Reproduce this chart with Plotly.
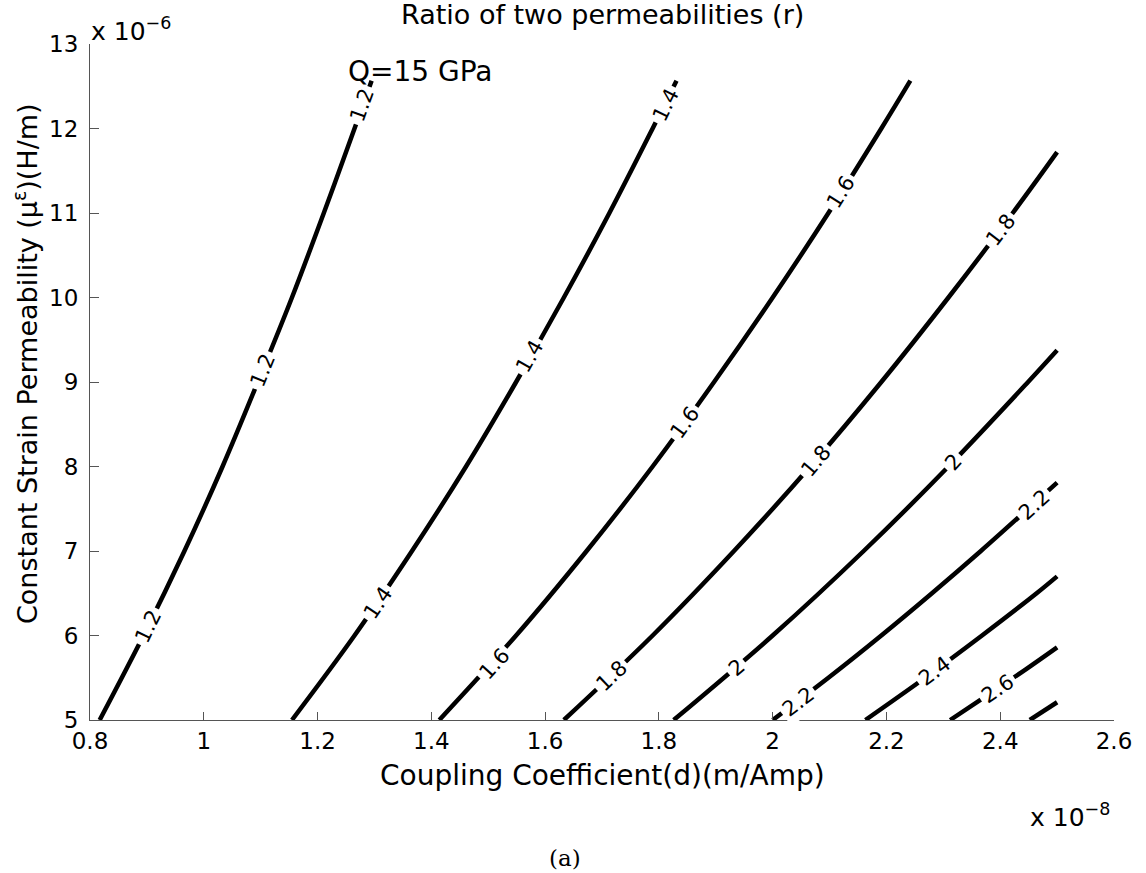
import numpy as np
import plotly.graph_objects as go

# ---- data (d in 1e-8 m/Amp, mu in 1e-6 H/m) ----
mu_r12 = [5.0, 6.0, 7.0, 8.0, 9.0, 10.0, 11.0, 12.0, 12.566]
d_r12 = [0.817, 0.894, 0.966, 1.033, 1.095, 1.155, 1.211, 1.265, 1.295]

mu_r14 = [5.0, 6.0, 7.0, 8.0, 9.0, 10.0, 11.0, 12.0, 12.566]
d_r14 = [1.155, 1.265, 1.366, 1.461, 1.549, 1.633, 1.713, 1.789, 1.831]

mu_r16 = [5.0, 6.0, 7.0, 8.0, 9.0, 10.0, 11.0, 12.0, 12.566]
d_r16 = [1.414, 1.549, 1.673, 1.789, 1.897, 2.000, 2.098, 2.191, 2.242]

mu_r18 = [5.0, 6.0, 7.0, 8.0, 9.0, 10.0, 11.0, 11.72]
d_r18 = [1.633, 1.789, 1.932, 2.066, 2.191, 2.309, 2.422, 2.500]

mu_r20 = [5.0, 6.0, 7.0, 8.0, 9.0, 9.375]
d_r20 = [1.826, 2.000, 2.160, 2.309, 2.449, 2.500]

mu_r22 = [5.0, 5.5, 6.0, 6.5, 7.0, 7.5, 7.81]
d_r22 = [2.000, 2.098, 2.191, 2.280, 2.366, 2.449, 2.500]

mu_r24 = [5.0, 5.5, 6.0, 6.5, 6.70]
d_r24 = [2.163, 2.268, 2.368, 2.464, 2.500]

mu_r26 = [5.0, 5.3, 5.6, 5.86]
d_r26 = [2.312, 2.379, 2.445, 2.500]

mu_r28 = [5.0, 5.21]
d_r28 = [2.452, 2.500]

level_names = ["1.2", "1.4", "1.6", "1.8", "2", "2.2", "2.4", "2.6", "2.8"]
level_mu = [mu_r12, mu_r14, mu_r16, mu_r18, mu_r20, mu_r22, mu_r24, mu_r26, mu_r28]
level_d = [d_r12, d_r14, d_r16, d_r18, d_r20, d_r22, d_r24, d_r26, d_r28]

# inline contour labels: level text, d position, mu position
label_text = ["1.2", "1.2", "1.2", "1.4", "1.4", "1.4", "1.6", "1.6", "1.6",
              "1.8", "1.8", "1.8", "2", "2", "2.2", "2.2", "2.4", "2.6"]
label_d = [0.902, 1.104, 1.278, 1.306, 1.572, 1.812, 1.511, 1.845, 2.120,
           1.717, 2.076, 2.401, 1.936, 2.318, 2.045, 2.460, 2.285, 2.395]
label_mu = [6.10, 9.14, 12.28, 6.39, 9.30, 12.28, 5.66, 8.52, 11.25,
            5.52, 8.07, 10.80, 5.62, 8.05, 5.21, 7.54, 5.58, 5.37]

x_ticks = [0.8, 1.0, 1.2, 1.4, 1.6, 1.8, 2.0, 2.2, 2.4, 2.6]
x_tick_text = ["0.8", "1", "1.2", "1.4", "1.6", "1.8", "2", "2.2", "2.4", "2.6"]
y_ticks = [5, 6, 7, 8, 9, 10, 11, 12, 13]
y_tick_text = ["5", "6", "7", "8", "9", "10", "11", "12", "13"]

X_RANGE = [0.8, 2.6]
Y_RANGE = [5, 13]
W, H = 1146, 873
ML, MR, MT, MB = 90, 32, 44, 153
PW, PH = W - ML - MR, H - MT - MB

FONT = "DejaVu Sans"
AX = "#555555"

fig = go.Figure()
for name, mu, d in zip(level_names, level_mu, level_d):
    fig.add_trace(go.Scatter(x=d, y=mu, mode="lines", name=name,
                             line=dict(color="black", width=4.5, shape="spline"),
                             hoverinfo="skip", showlegend=False))

# label angles from local slope of the corresponding line in pixel space
px_x = PW / (X_RANGE[1] - X_RANGE[0])
px_y = PH / (Y_RANGE[1] - Y_RANGE[0])
annotations = []
for t, ld, lm in zip(label_text, label_d, label_mu):
    i = level_names.index(t)
    mu = np.array(level_mu[i]); d = np.array(level_d[i])
    k = int(np.clip(np.searchsorted(mu, lm) - 1, 0, len(mu) - 2))
    slope = (d[k + 1] - d[k]) / (mu[k + 1] - mu[k])
    ang = np.degrees(np.arctan2(px_y, slope * px_x))
    annotations.append(dict(x=ld, y=lm, xref="x", yref="y", text=t,
                            showarrow=False, textangle=-ang,
                            font=dict(family=FONT, size=21, color="black"),
                            bgcolor="white", borderpad=3))

annotations += [
    dict(x=1.25, y=12.68, xref="x", yref="y", text="Q=15 GPa", showarrow=False,
         xanchor="left", yanchor="middle",
         font=dict(family=FONT, size=28, color="black")),
    dict(x=0.5, y=1.0, xref="paper", yref="paper", yshift=30,
         text="Ratio of two permeabilities (r)", showarrow=False,
         xanchor="center", yanchor="middle",
         font=dict(family=FONT, size=27, color="black")),
    dict(x=0.0, y=1.0, xref="paper", yref="paper", yshift=15, xshift=-1,
         text="x 10<sup>\u22126</sup>", showarrow=False,
         xanchor="left", yanchor="middle",
         font=dict(family=FONT, size=25, color="black")),
    dict(x=1.0, y=0.0, xref="paper", yref="paper", yshift=-95, xshift=-2,
         text="x 10<sup>\u22128</sup>", showarrow=False,
         xanchor="right", yanchor="middle",
         font=dict(family=FONT, size=25, color="black")),
    dict(x=0.5, y=0.0, xref="paper", yref="paper", yshift=-55,
         text="Coupling Coefficient(d)(m/Amp)", showarrow=False,
         xanchor="center", yanchor="middle",
         font=dict(family=FONT, size=28, color="black")),
    dict(x=0.0, y=0.5, xref="paper", yref="paper", xshift=-65, yshift=18,
         text="Constant Strain Permeability (\u03bc<sup>\u03b5</sup>)(H/m)",
         showarrow=False, textangle=-90, xanchor="center", yanchor="middle",
         font=dict(family=FONT, size=27, color="black")),
    dict(x=0.464, y=0.0, xref="paper", yref="paper", yshift=-138,
         text="(a)", showarrow=False, xanchor="center", yanchor="middle",
         font=dict(family="DejaVu Serif", size=23, color="black")),
]

axis_common = dict(showgrid=False, zeroline=False, showline=True,
                   linecolor=AX, linewidth=1, ticks="inside", tickcolor=AX,
                   tickwidth=1, mirror=False,
                   tickfont=dict(family=FONT, size=23, color="black"))

fig.update_layout(
    width=W, height=H,
    margin=dict(l=ML, r=MR, t=MT, b=MB),
    paper_bgcolor="white", plot_bgcolor="white",
    xaxis=dict(range=X_RANGE, tickvals=x_ticks, ticktext=x_tick_text,
               ticklen=8, ticklabelstandoff=0, **axis_common),
    yaxis=dict(range=Y_RANGE, tickvals=y_ticks, ticktext=y_tick_text,
               ticklen=9, ticklabelstandoff=6, **axis_common),
    annotations=annotations,
)

fig.write_html("out.html", config={"displayModeBar": False},
               post_script="document.body.style.margin='0';"
                           "document.body.style.overflow='hidden';")
